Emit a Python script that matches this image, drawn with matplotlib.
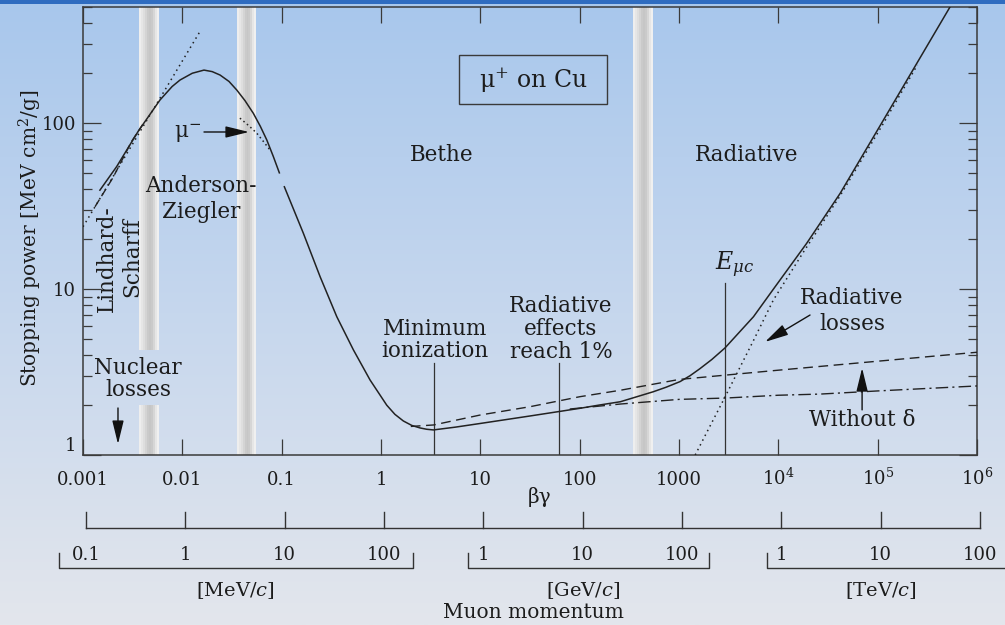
import numpy as np
import matplotlib
matplotlib.use("Agg")
import matplotlib.pyplot as plt
from matplotlib.patches import Rectangle
from matplotlib.colors import LinearSegmentedColormap
from matplotlib.ticker import NullLocator, NullFormatter, LogLocator

plt.rcParams['font.family'] = ['DejaVu Serif']
plt.rcParams['mathtext.fontset'] = 'dejavuserif'

# ---------------- data ----------------
xtick_vals = [1e-3, 1e-2, 1e-1, 1, 10, 100, 1000, 1e4, 1e5, 1e6]
xtick_labels = ['0.001', '0.01', '0.1', '1', '10', '100', '1000',
                r'$10^4$', r'$10^5$', r'$10^6$']
ytick_vals = [1, 10, 100]
ytick_labels = ['1', '10', '100']

# Anderson-Ziegler (low energy) segment of the total curve
az_bg = [0.00148, 0.00218, 0.00361, 0.00596, 0.0079, 0.00948, 0.0126, 0.01652,
         0.0200, 0.0240, 0.0295, 0.0353, 0.0427, 0.0519, 0.0610, 0.0708, 0.0822, 0.0948]
az_dedx = [39.4, 54.6, 89.5, 137.7, 166, 181.6, 199.5, 208.4,
           204, 194.5, 178, 158.1, 136.5, 114.3, 95.5, 79.1, 63.1, 50.1]

# Bethe + radiative segment of the total curve
bethe_bg = [0.1064, 0.1652, 0.2438, 0.3589, 0.5272, 0.7762, 1.143, 1.380, 1.679,
            2.042, 2.477, 2.884, 3.373, 5.62, 10, 31.6, 100, 158, 257, 550, 741, 1023,
            1288, 1622, 2138, 2904, 3981, 5623, 8913, 19280, 41880, 114300, 534600, 631000]
bethe_dedx = [41.3, 21.7, 11.86, 6.81, 4.30, 2.83, 1.995, 1.758, 1.603,
              1.507, 1.455, 1.429, 1.416, 1.472, 1.549, 1.718, 1.910, 2.0, 2.094, 2.404, 2.56, 2.767,
              3.0, 3.31, 3.76, 4.416, 5.43, 6.81, 9.98, 18.84, 37.67, 104.2, 500, 589]

# ionization without density effect (dashed)
nodelta_bg = [1.995, 3.388, 10, 31.6, 100, 257, 1000, 3162, 1e4, 31620, 1e5, 1e6]
nodelta_dedx = [1.486, 1.517, 1.742, 1.954, 2.244, 2.455, 2.851, 3.041, 3.243, 3.451, 3.673, 4.159]

# ionization with density effect (dash-dot)
ion_bg = [79.4, 257, 1000, 2917, 1e4, 26300, 1e5, 1e6]
ion_dedx = [1.892, 2.028, 2.163, 2.203, 2.291, 2.328, 2.432, 2.606]

# radiative losses (dotted)
rad_bg = [1455, 1995, 2904, 5623, 8913, 17780, 41690, 114800, 251200]
rad_dedx = [1.0, 1.445, 2.234, 4.898, 8.59, 16.6, 36.3, 100, 223.9]

# Lindhard-Scharff (dotted)
ls_bg = [0.001, 0.0148]
ls_dedx = [23.7, 350]

# low-energy dashed
lowdash_bg = [0.00132, 0.0020, 0.00309, 0.00398]
lowdash_dedx = [31.3, 46.8, 77.6, 97.7]

# mu- (Barkas) dotted
mum_bg = [0.038, 0.047, 0.056, 0.066, 0.0764]
mum_dedx = [107, 96, 87, 77, 68.7]

# grey bands (beta-gamma ranges) and their vertical segments
band_ranges = [(0.00366, 0.00583), (0.0356, 0.0552), (346, 549)]
band_segments = [[(1, 2.0), (4.3, 500)], [(1, 500)], [(1, 500)]]

# muon momentum scale (MeV/c)
mom_ticks = [0.1, 1, 10, 100, 1e3, 1e4, 1e5, 1e6, 1e7, 1e8]
mom_labels = ['0.1', '1', '10', '100', '1', '10', '100', '1', '10', '100']
mom_brackets = [(0.0535, 196), (702, 1.87e5), (7.18e5, 2e8)]
mom_units = ['[MeV/$c$]', '[GeV/$c$]', '[TeV/$c$]']
mom_unit_pos = [3.16, 1e4, 1e7]

# ---------------- figure ----------------
W, H = 1005, 625
fig = plt.figure(figsize=(W / 100, H / 100), dpi=100)

bg = fig.add_axes([0, 0, 1, 1])
bg.set_zorder(-10)
bg.axis('off')
cmap = LinearSegmentedColormap.from_list('bgc', ['#a8c7ec', '#c6d7ee', '#e3e6ec'])
grad = np.linspace(0, 1, 256)[:, None]
bg.imshow(grad, cmap=cmap, aspect='auto', extent=[0, 1, 0, 1], origin='upper')
bg.add_patch(Rectangle((0, 1 - 4 / H), 1, 4 / H, color='#2f6cc0', lw=0))
bg.set_xlim(0, 1)
bg.set_ylim(0, 1)

ink = '#1c1c1c'
ax = fig.add_axes([83 / W, 1 - 455 / H, 894 / W, 448 / H])
ax.set_facecolor('none')
ax.set_xscale('log')
ax.set_yscale('log')
ax.set_xlim(1e-3, 1e6)
ax.set_ylim(1, 500)
for s in ax.spines.values():
    s.set_color('#3a3a3a')
    s.set_linewidth(1.1)

ax.set_xticks(xtick_vals, xtick_labels)
ax.xaxis.set_minor_locator(NullLocator())
ax.tick_params(axis='x', which='major', direction='in', length=11.5, width=0.9,
               top=True, pad=21.5, labelsize=13, colors='#3a3a3a', labelcolor=ink)
ax.set_yticks(ytick_vals, ytick_labels)
ax.yaxis.set_minor_locator(LogLocator(base=10, subs=np.arange(2, 10)))
ax.yaxis.set_minor_formatter(NullFormatter())
ax.tick_params(axis='y', which='major', direction='in', length=13, width=0.9,
               right=True, pad=5, labelsize=13, colors='#3a3a3a', labelcolor=ink)
ax.tick_params(axis='y', which='minor', direction='in', length=6.5, width=0.9,
               right=True, colors='#3a3a3a')
for lbl in ax.get_xticklabels():
    lbl.set_va('baseline')
ax.get_yticklabels()[0].set_va('bottom')

ax.set_ylabel('Stopping power [MeV cm$^2$/g]', fontsize=14.5, color=ink)
ax.yaxis.set_label_coords(-0.059, 0.483)
ax.yaxis.label.set_va('center')
ax.set_xlabel('βγ', fontsize=14.5, color=ink)
ax.xaxis.set_label_coords(0.511, -0.094)
ax.xaxis.label.set_va('center')

# grey bands
prof = [238, 230, 222, 212, 202, 198, 202, 214, 230, 240]
for (lo, hi), segs in zip(band_ranges, band_segments):
    edges = np.logspace(np.log10(lo), np.log10(hi), len(prof) + 1)
    for (y0, y1) in segs:
        for i, g in enumerate(prof):
            ax.fill_between([edges[i], edges[i + 1] * 1.003], y0, y1,
                            color=(g / 255,) * 3, lw=0, zorder=0.5)

lc = '#222222'
ax.plot(az_bg, az_dedx, color=lc, lw=1.1, zorder=3)
ax.plot(bethe_bg, bethe_dedx, color=lc, lw=1.1, zorder=3)
ax.plot(nodelta_bg, nodelta_dedx, color=lc, lw=1.0, dashes=(7, 4), zorder=3)
ax.plot(ion_bg, ion_dedx, color=lc, lw=1.0, dashes=(9, 3, 1.5, 3), zorder=3)
ax.plot(rad_bg, rad_dedx, color=lc, lw=1.1, linestyle=(0, (1, 2.5)), zorder=3)
ax.plot(ls_bg, ls_dedx, color=lc, lw=1.1, linestyle=(0, (1, 2.5)), zorder=3)
ax.plot(lowdash_bg, lowdash_dedx, color=lc, lw=1.0, dashes=(6, 3), zorder=3)
ax.plot(mum_bg, mum_dedx, color=lc, lw=1.1, linestyle=(0, (1, 2)), zorder=3)

# box label
ax.add_patch(Rectangle((6.1, 130), 188 - 6.1, 257 - 130, fill=False,
                       edgecolor='#3a3a3a', lw=1.0, zorder=4))
tk = dict(ha='center', va='center', color=ink, fontsize=15.5, zorder=5)
ax.text(33.9, 181.6, 'μ$^{+}$ on Cu', **{**tk, 'fontsize': 17})
ax.text(4.11, 64.1, 'Bethe', **tk)
ax.text(4842, 64.1, 'Radiative', **tk)
ax.text(0.0154, 34.9, 'Anderson-\nZiegler', linespacing=1.25, **tk)
ax.text(0.0114, 87, 'μ$^{-}$', **tk)
ax.text(0.001746, 15.2, 'Lindhard-', rotation=90, **tk)
ax.text(0.00311, 15.6, 'Scharff', rotation=90, **tk)
ax.text(0.00358, 2.87, 'Nuclear\nlosses', linespacing=1.05, **tk)
ax.text(3.5, 4.93, 'Minimum\nionization', linespacing=1.05, **tk)
ax.text(64.9, 5.74, 'Radiative\neffects\nreach 1%', linespacing=1.05, **tk)
ax.text(3665, 13.9, r'$E_{\mu c}$', **{**tk, 'fontsize': 17})
ax.text(55200, 7.37, 'Radiative\nlosses', linespacing=1.2, **tk)
ax.text(69700, 1.625, 'Without δ', **tk)

vl = dict(color='#333333', lw=0.9, zorder=2)
ax.plot([3.42, 3.42], [1, 3.58], **vl)
ax.plot([62, 62], [1, 3.58], **vl)
ax.plot([2904, 2904], [1, 10.9], **vl)

ap = dict(arrowstyle='-|>,head_length=0.9,head_width=0.22', color='#111111',
          lw=1.0, mutation_scale=16, shrinkA=0, shrinkB=0)
ax.annotate('', xy=(0.0469, 88.3), xytext=(0.01652, 88.3), arrowprops=ap, zorder=5)
ax.annotate('', xy=(0.00225, 1.164), xytext=(0.00225, 1.92), arrowprops=ap, zorder=5)
ax.annotate('', xy=(7345, 4.80), xytext=(20850, 6.97), arrowprops=ap, zorder=5)
ax.annotate('', xy=(69700, 3.34), xytext=(69700, 1.87), arrowprops=ap, zorder=5)

# ---------------- momentum scale ----------------
axm = fig.add_axes([86 / W, 0, 894 / W, 120 / H])
axm.set_xscale('log')
axm.set_xlim(mom_ticks[0], mom_ticks[-1])
axm.set_ylim(120, 0)
axm.axis('off')
mk = dict(color='#333333', lw=1.0, clip_on=False)
axm.plot([mom_ticks[0], mom_ticks[-1]], [23, 23], **mk)
for p, lab in zip(mom_ticks, mom_labels):
    axm.plot([p, p], [7, 23], **mk)
    axm.text(p, 50, lab, ha='center', va='center', fontsize=13, color=ink)
for lo, hi in mom_brackets:
    axm.plot([lo, lo, hi, hi], [48, 63, 63, 48], **mk)
for u, p in zip(mom_units, mom_unit_pos):
    axm.text(p, 86, u, ha='center', va='center', fontsize=14, color=ink)
axm.text(10 ** 3.5, 108, 'Muon momentum', ha='center', va='center', fontsize=14.5, color=ink)

fig.savefig('out.png', dpi=100)
